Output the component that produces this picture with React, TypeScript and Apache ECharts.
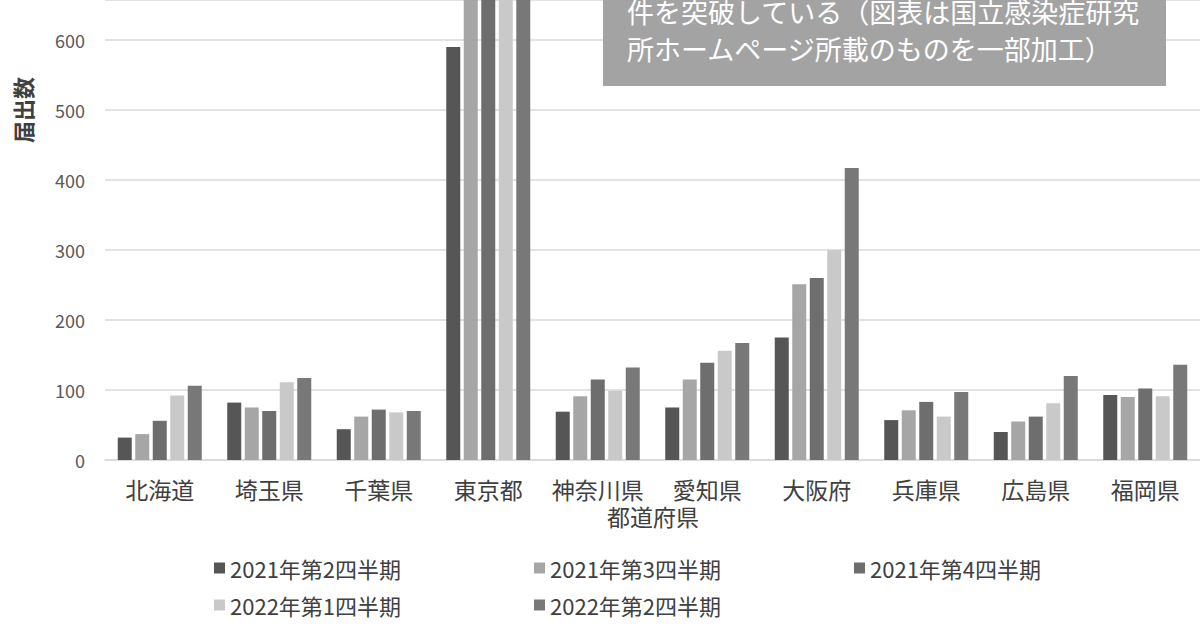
import React, { useEffect, useRef } from "react";
import * as echarts from "echarts";

const categories = ["北海道", "埼玉県", "千葉県", "東京都", "神奈川県", "愛知県", "大阪府", "兵庫県", "広島県", "福岡県"];
const seriesNames = ["2021年第2四半期", "2021年第3四半期", "2021年第4四半期", "2022年第1四半期", "2022年第2四半期"];
const q2021_2 = [32, 82, 44, 590, 69, 75, 175, 57, 40, 93];
const q2021_3 = [37, 75, 62, 820, 91, 115, 251, 71, 55, 90];
const q2021_4 = [56, 70, 72, 880, 115, 139, 260, 83, 62, 102];
const q2022_1 = [92, 111, 68, 900, 99, 156, 300, 62, 81, 91];
const q2022_2 = [106, 117, 70, 1000, 132, 167, 417, 97, 120, 136];
const yTicks = [0, 100, 200, 300, 400, 500, 600];
const noteLines = ["件を突破している（図表は国立感染症研究", "所ホームページ所載のものを一部加工）"];

const colors = ["#565656", "#a6a6a6", "#6e6e6e", "#c9c9c9", "#787878"];
const FONT = "'Noto Sans CJK JP', 'Noto Sans', sans-serif";

export default function App() {
  const ref = useRef<HTMLDivElement>(null);
  useEffect(() => {
    if (!ref.current) return;
    const chart = echarts.init(ref.current, null, { renderer: "svg" });
    const data = [q2021_2, q2021_3, q2021_4, q2022_1, q2022_2];
    const legendPos = [
      { left: 209, top: 552 },
      { left: 529, top: 552 },
      { left: 849, top: 552 },
      { left: 209, top: 589 },
      { left: 529, top: 589 },
    ];
    chart.setOption({
      animation: false,
      backgroundColor: "#ffffff",
      textStyle: { fontFamily: FONT },
      grid: { left: 105, width: 1100, top: 0, bottom: 170 },
      legend: seriesNames.map((n, i) => ({
        data: [n],
        left: legendPos[i].left,
        top: legendPos[i].top,
        icon: "rect",
        itemWidth: 11,
        itemHeight: 11,
        itemGap: 5,
        textStyle: { fontSize: 22, color: "#404040", fontFamily: FONT },
      })),
      xAxis: {
        type: "category",
        data: categories,
        axisTick: { show: false },
        axisLine: { lineStyle: { color: "#d9d9d9", width: 1.5 } },
        axisLabel: { fontSize: 23, color: "#404040", margin: 17, interval: 0, fontFamily: FONT },
      },
      yAxis: {
        type: "value",
        min: 0,
        max: 657,
        interval: 100,
        axisLine: { show: false },
        axisTick: { show: false },
        splitLine: { lineStyle: { color: "#d9d9d9", width: 1.5 } },
        axisLabel: {
          fontSize: 18,
          color: "#595959",
          margin: 20,
          fontFamily: FONT,
          showMaxLabel: false,
          formatter: (v: number) => (yTicks.includes(v) ? String(v) : ""),
        },
      },
      series: seriesNames.map((n, i) => ({
        name: n,
        type: "bar",
        data: data[i],
        barWidth: 14,
        barGap: "25%",
        clip: true,
        itemStyle: { color: colors[i] },
      })),
      graphic: [
        {
          type: "text",
          x: 22,
          y: 110,
          rotation: Math.PI / 2,
          style: { text: "届出数", fontSize: 22, fontWeight: "bold", fill: "#404040", fontFamily: FONT, align: "center", verticalAlign: "middle" },
        },
        {
          type: "text",
          x: 653,
          y: 516,
          style: { text: "都道府県", fontSize: 23, fill: "#404040", fontFamily: FONT, align: "center", verticalAlign: "middle" },
        },
        {
          type: "rect",
          z: 100,
          shape: { x: 603, y: -10, width: 563, height: 96 },
          style: { fill: "#a3a3a3" },
        },
        {
          type: "text",
          z: 101,
          x: 627,
          y: 11,
          style: { text: noteLines[0], fontSize: 27, fill: "#ffffff", fontFamily: FONT, align: "left", verticalAlign: "middle" },
        },
        {
          type: "text",
          z: 101,
          x: 627,
          y: 48,
          style: { text: noteLines[1], fontSize: 27, fill: "#ffffff", fontFamily: FONT, align: "left", verticalAlign: "middle" },
        },
      ],
    });
    return () => chart.dispose();
  }, []);
  return <div ref={ref} style={{ position: "absolute", left: 0, top: 0, width: 1200, height: 630 }} />;
}
